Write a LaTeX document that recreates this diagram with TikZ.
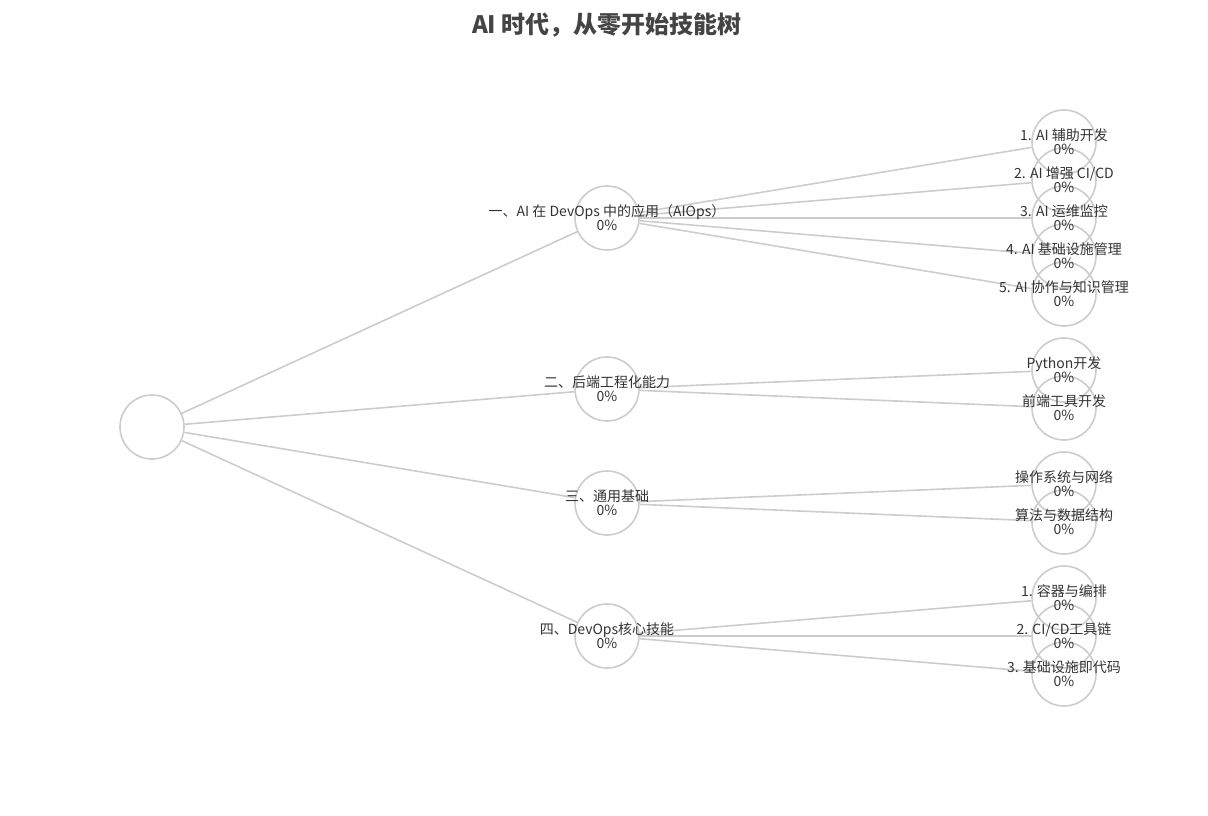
\documentclass[tikz,border=0pt]{standalone}
\usepackage{fontspec}
\setmainfont{Noto Sans CJK SC}
\usepackage{tikz}
\definecolor{linegray}{HTML}{CCCCCC}
\definecolor{textgray}{HTML}{333333}
\definecolor{titlegray}{HTML}{444444}

\begin{document}
\begin{tikzpicture}[x=1pt,y=-1pt]
\tikzset{skill/.style={circle, draw=linegray, line width=1.6pt, minimum size=64pt, inner sep=0pt}}
\tikzset{tag/.style={align=center, text=textgray, font=\fontsize{14}{14}\selectfont, inner sep=0pt}}
\tikzset{link/.style={draw=linegray, line width=1.6pt}}
\useasboundingbox (0,0) rectangle (1208,816);

\node[font=\fontsize{24}{26}\selectfont\bfseries, text=titlegray] (T) at (607,25) {AI 时代，从零开始技能树};

% root and first level
\node[skill] (R) at (152,427) {};
\node[skill] (A) at (607,218) {};
\node[skill] (B) at (607,389) {};
\node[skill] (C) at (607,503) {};
\node[skill] (D) at (607,636) {};

% leaves
\node[skill] (A1) at (1064,142) {};
\node[skill] (A2) at (1064,180) {};
\node[skill] (A3) at (1064,218) {};
\node[skill] (A4) at (1064,256) {};
\node[skill] (A5) at (1064,294) {};
\node[skill] (B1) at (1064,370) {};
\node[skill] (B2) at (1064,408) {};
\node[skill] (C1) at (1064,484) {};
\node[skill] (C2) at (1064,522) {};
\node[skill] (D1) at (1064,598) {};
\node[skill] (D2) at (1064,636) {};
\node[skill] (D3) at (1064,674) {};

\draw[link] (R)--(A) (R)--(B) (R)--(C) (R)--(D);
\draw[link] (A)--(A1) (A)--(A2) (A)--(A3) (A)--(A4) (A)--(A5);
\draw[link] (B)--(B1) (B)--(B2);
\draw[link] (C)--(C1) (C)--(C2);
\draw[link] (D)--(D1) (D)--(D2) (D)--(D3);

% labels
\node[tag] (Al) at (A) {一、AI 在 DevOps 中的应用（AIOps）\\0\%};
\node[tag] (Bl) at (B) {二、后端工程化能力\\0\%};
\node[tag] (Cl) at (C) {三、通用基础\\0\%};
\node[tag] (Dl) at (D) {四、DevOps核心技能\\0\%};
\node[tag] (A1l) at (A1) {1. AI 辅助开发\\0\%};
\node[tag] (A2l) at (A2) {2. AI 增强 CI/CD\\0\%};
\node[tag] (A3l) at (A3) {3. AI 运维监控\\0\%};
\node[tag] (A4l) at (A4) {4. AI 基础设施管理\\0\%};
\node[tag] (A5l) at (A5) {5. AI 协作与知识管理\\0\%};
\node[tag] (B1l) at (B1) {Python开发\\0\%};
\node[tag] (B2l) at (B2) {前端工具开发\\0\%};
\node[tag] (C1l) at (C1) {操作系统与网络\\0\%};
\node[tag] (C2l) at (C2) {算法与数据结构\\0\%};
\node[tag] (D1l) at (D1) {1. 容器与编排\\0\%};
\node[tag] (D2l) at (D2) {2. CI/CD工具链\\0\%};
\node[tag] (D3l) at (D3) {3. 基础设施即代码\\0\%};
\end{tikzpicture}
\end{document}
